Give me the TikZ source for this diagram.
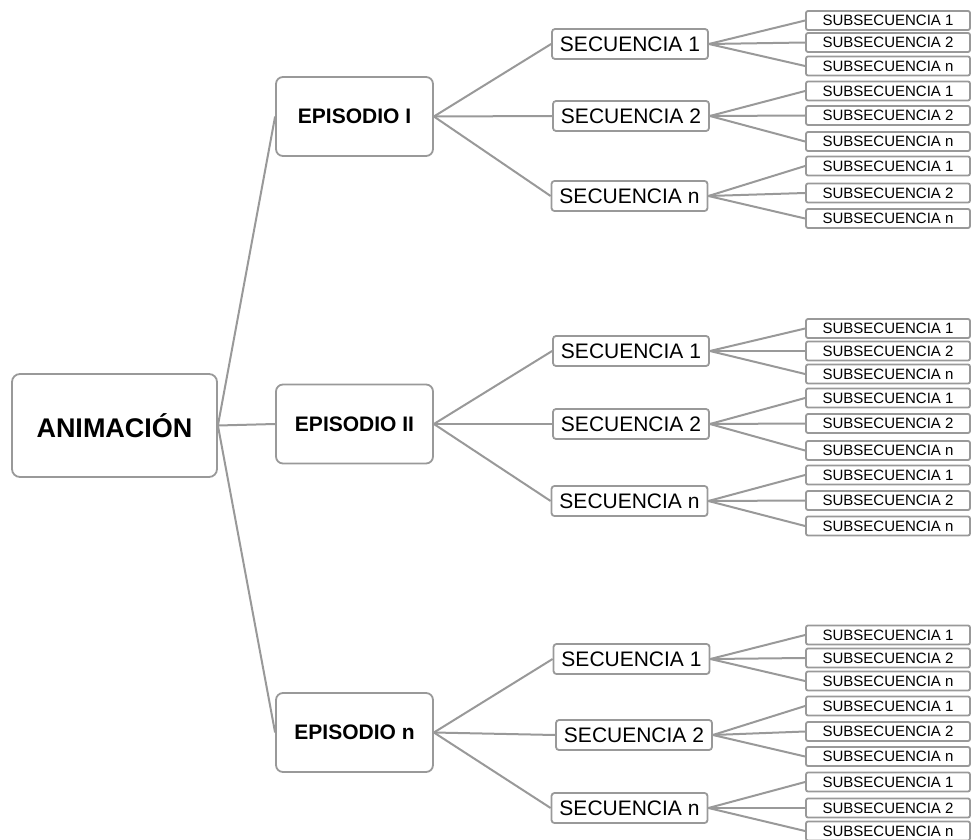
\documentclass[tikz,border=0pt]{standalone}
\usepackage{fontspec}
\setmainfont{Liberation Sans}
\usepackage{color}
\usetikzlibrary{arrows}

\definecolor{linegray}{RGB}{153,153,153}

\begin{document}
\begin{tikzpicture}[x=1pt,y=-1pt,-,
				box/.style={draw=linegray,line width=1.8pt,inner sep=0pt,align=center},
				anim node/.style={box,rounded corners=8pt,minimum width=205pt,minimum height=103pt,font=\fontsize{27}{30}\selectfont\bfseries},
				ep node/.style={box,rounded corners=7pt,minimum width=157pt,minimum height=79pt,font=\fontsize{21}{24}\selectfont\bfseries},
				seq node/.style={box,rounded corners=3pt,minimum width=156pt,minimum height=30pt,font=\fontsize{21}{24}\selectfont},
				sub node/.style={box,rounded corners=2pt,minimum width=164pt,minimum height=19pt,font=\fontsize{15}{17}\selectfont}]
				
				\useasboundingbox (0,0) rectangle (972,840);
				
				\node[anim node] (0) at (114.5,425.5) {ANIMACIÓN};
				
				\node[ep node] (1) at (354.5,116.5) {EPISODIO I};
				\node[ep node] (2) at (354.5,424) {EPISODIO II};
				\node[ep node] (3) at (354.5,732.5) {EPISODIO n};
				
				% secuencias
				\node[seq node] (11) at (630,44) {SECUENCIA 1};
				\node[seq node] (12) at (631,116) {SECUENCIA 2};
				\node[seq node] (1n) at (629.5,196) {SECUENCIA n};
				\node[seq node] (21) at (631,351) {SECUENCIA 1};
				\node[seq node] (22) at (631,424) {SECUENCIA 2};
				\node[seq node] (2n) at (629.5,501) {SECUENCIA n};
				\node[seq node] (31) at (631.5,659) {SECUENCIA 1};
				\node[seq node] (32) at (634,735) {SECUENCIA 2};
				\node[seq node] (3n) at (629.5,808) {SECUENCIA n};
				
				% subsecuencias
				\node[sub node] (111) at (888,20.5) {SUBSECUENCIA 1};
				\node[sub node] (112) at (888,42.5) {SUBSECUENCIA 2};
				\node[sub node] (11n) at (888,66) {SUBSECUENCIA n};
				\node[sub node] (121) at (888,91) {SUBSECUENCIA 1};
				\node[sub node] (122) at (888,115.5) {SUBSECUENCIA 2};
				\node[sub node] (12n) at (888,141.5) {SUBSECUENCIA n};
				\node[sub node] (1n1) at (888,166) {SUBSECUENCIA 1};
				\node[sub node] (1n2) at (888,193) {SUBSECUENCIA 2};
				\node[sub node] (1nn) at (888,218.5) {SUBSECUENCIA n};
				
				\node[sub node] (211) at (888,328.5) {SUBSECUENCIA 1};
				\node[sub node] (212) at (888,351) {SUBSECUENCIA 2};
				\node[sub node] (21n) at (888,374) {SUBSECUENCIA n};
				\node[sub node] (221) at (888,398) {SUBSECUENCIA 1};
				\node[sub node] (222) at (888,423.5) {SUBSECUENCIA 2};
				\node[sub node] (22n) at (888,450.5) {SUBSECUENCIA n};
				\node[sub node] (2n1) at (888,475) {SUBSECUENCIA 1};
				\node[sub node] (2n2) at (888,500.5) {SUBSECUENCIA 2};
				\node[sub node] (2nn) at (888,526) {SUBSECUENCIA n};
				
				\node[sub node] (311) at (888,635) {SUBSECUENCIA 1};
				\node[sub node] (312) at (888,658) {SUBSECUENCIA 2};
				\node[sub node] (31n) at (888,681) {SUBSECUENCIA n};
				\node[sub node] (321) at (888,706) {SUBSECUENCIA 1};
				\node[sub node] (322) at (888,731.5) {SUBSECUENCIA 2};
				\node[sub node] (32n) at (888,756.5) {SUBSECUENCIA n};
				\node[sub node] (3n1) at (888,782) {SUBSECUENCIA 1};
				\node[sub node] (3n2) at (888,808) {SUBSECUENCIA 2};
				\node[sub node] (3nn) at (888,831) {SUBSECUENCIA n};
				
				\path[every edge/.style={draw=linegray,line width=2pt}]
				
				(0.east) edge (1.west)
				(0.east) edge (2.west)
				(0.east) edge (3.west)
				
				(1.east) edge (11.west) (1.east) edge (12.west) (1.east) edge (1n.west)
				(2.east) edge (21.west) (2.east) edge (22.west) (2.east) edge (2n.west)
				(3.east) edge (31.west) (3.east) edge (32.west) (3.east) edge (3n.west)
				
				(11.east) edge (111.west) (11.east) edge (112.west) (11.east) edge (11n.west)
				(12.east) edge (121.west) (12.east) edge (122.west) (12.east) edge (12n.west)
				(1n.east) edge (1n1.west) (1n.east) edge (1n2.west) (1n.east) edge (1nn.west)
				(21.east) edge (211.west) (21.east) edge (212.west) (21.east) edge (21n.west)
				(22.east) edge (221.west) (22.east) edge (222.west) (22.east) edge (22n.west)
				(2n.east) edge (2n1.west) (2n.east) edge (2n2.west) (2n.east) edge (2nn.west)
				(31.east) edge (311.west) (31.east) edge (312.west) (31.east) edge (31n.west)
				(32.east) edge (321.west) (32.east) edge (322.west) (32.east) edge (32n.west)
				(3n.east) edge (3n1.west) (3n.east) edge (3n2.west) (3n.east) edge (3nn.west);
				
\end{tikzpicture}
\end{document}
